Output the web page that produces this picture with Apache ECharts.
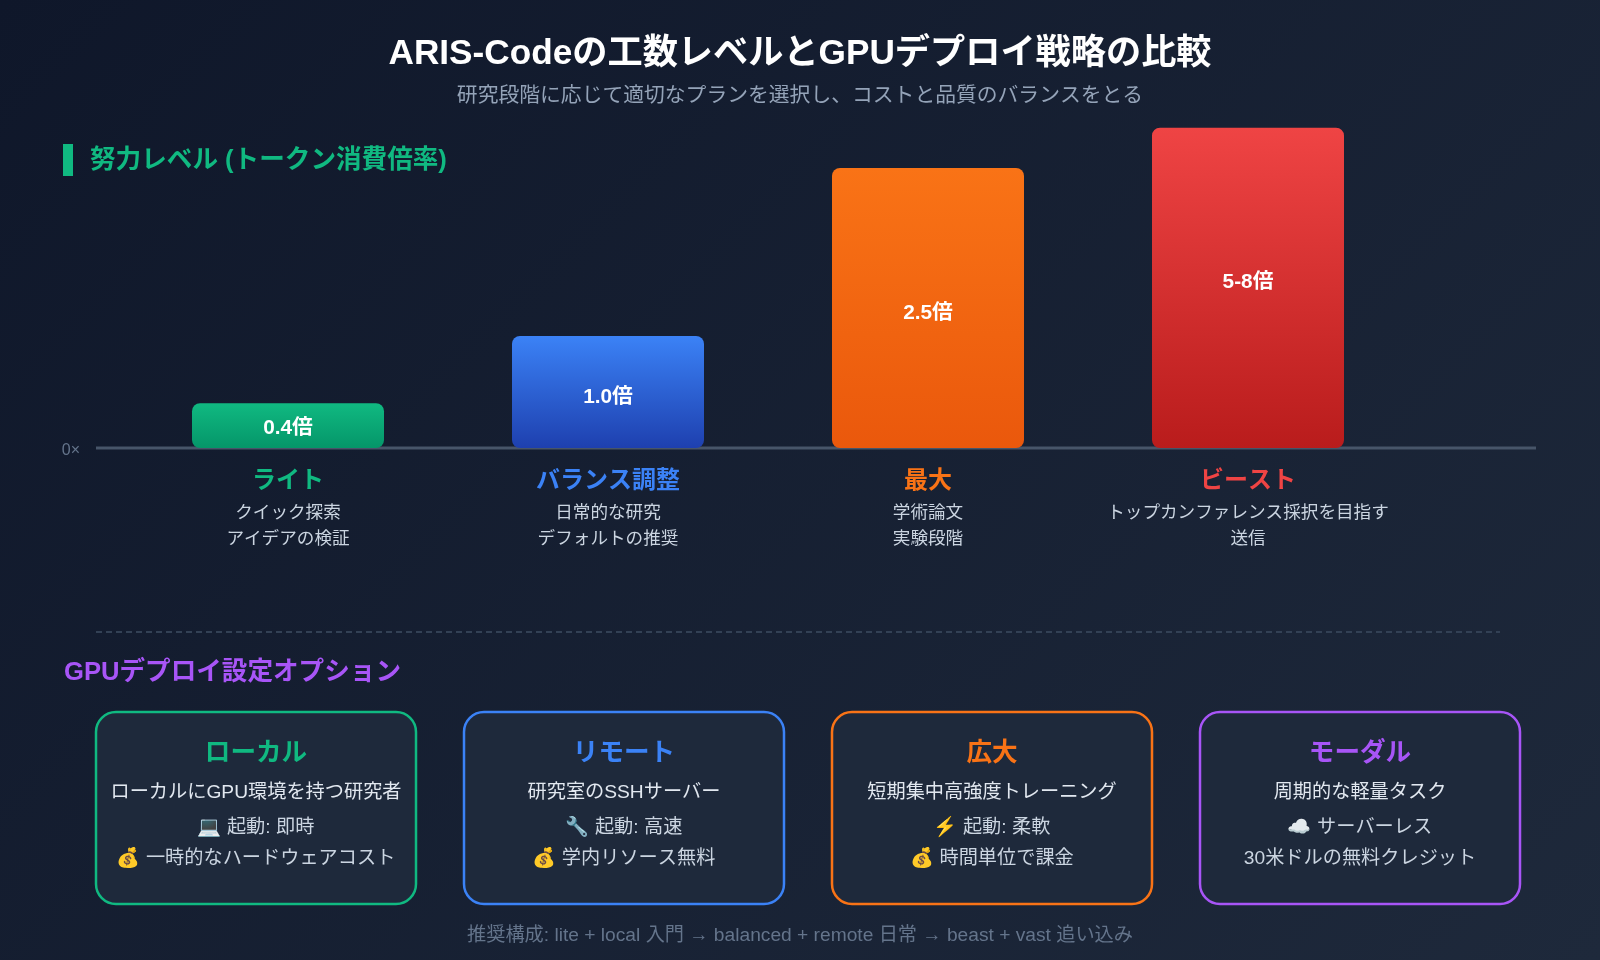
<!DOCTYPE html>
<html lang="ja">
<head>
<meta charset="utf-8">
<style>html,body{margin:0;padding:0;background:#0f172a}#c{width:1600px;height:960px}</style>
<script src="https://cdn.jsdelivr.net/npm/echarts@6/dist/echarts.min.js"></script>
</head>
<body>
<div id="c"></div>
<script>
const FONT = '"Liberation Sans","Noto Sans CJK JP","Noto Color Emoji",sans-serif';
const chartTitle = 'ARIS-Codeの工数レベルとGPUデプロイ戦略の比較';
const chartSubtitle = '研究段階に応じて適切なプランを選択し、コストと品質のバランスをとる';
const effortHeading = '努力レベル (トークン消費倍率)';
const deployHeading = 'GPUデプロイ設定オプション';
const footerNote = '推奨構成: lite + local 入門 → balanced + remote 日常 → beast + vast 追い込み';

const categories = ['ライト', 'バランス調整', '最大', 'ビースト'];
// The last bar is labelled 5-8倍 but is drawn capped on the picture's scale, about 2.86.
const barValues = [0.4, 1.0, 2.5, 2.86];
const barLabels = ['0.4倍', '1.0倍', '2.5倍', '5-8倍'];
const descLine1 = ['クイック探索', '日常的な研究', '学術論文', 'トップカンファレンス採択を目指す'];
const descLine2 = ['アイデアの検証', 'デフォルトの推奨', '実験段階', '送信'];
const barTop = ['#10b981', '#3b82f6', '#f97316', '#ef4444'];
const barBottom = ['#059669', '#1e40af', '#ea580c', '#b91c1c'];
const labelOffset = [3, 5, 5, -6];

const cardTitles = ['ローカル', 'リモート', '広大', 'モーダル'];
const cardLine1 = ['ローカルにGPU環境を持つ研究者', '研究室のSSHサーバー', '短期集中高強度トレーニング', '周期的な軽量タスク'];
const cardLine2 = ['💻 起動: 即時', '🔧 起動: 高速', '⚡ 起動: 柔軟', '☁️ サーバーレス'];
const cardLine3 = ['💰 一時的なハードウェアコスト', '💰 学内リソース無料', '💰 時間単位で課金', '30米ドルの無料クレジット'];
const cardColors = ['#10b981', '#3b82f6', '#f97316', '#a855f7'];
const cardLeft = [96, 464, 832, 1200];

const richStyles = {d: {fontSize: 17.6, color: '#cbd5e1', lineHeight: 26, fontFamily: FONT}};
categories.forEach((c, i) => {
  richStyles['t' + i] = {fontSize: 24, fontWeight: 'bold', color: barTop[i], lineHeight: 36, fontFamily: FONT, padding: [0, 0, 2, 0]};
});

function txt(text, x, y, size, fill, weight, align) {
  return {type: 'text', silent: true, style: {
    text, x, y, fill, align: align || 'center', verticalAlign: 'middle',
    font: (weight ? weight + ' ' : '') + size + 'px ' + FONT
  }};
}

const graphics = [
  {type: 'line', silent: true, shape: {x1: 96, y1: 448, x2: 1536, y2: 448}, style: {stroke: '#475569', lineWidth: 3}},
  {type: 'rect', silent: true, shape: {x: 63, y: 144, width: 10, height: 32}, style: {fill: '#10b981'}},
  {type: 'line', silent: true, shape: {x1: 96, y1: 632, x2: 1500, y2: 632}, style: {stroke: '#334155', lineWidth: 2, lineDash: [6, 4]}},
  txt(chartTitle, 800, 54, 35.2, '#ffffff', 'bold'),
  txt(chartSubtitle, 800, 96, 20.8, '#94a3b8'),
  txt(effortHeading, 90, 161, 25.6, '#10b981', 'bold', 'left'),
  txt(deployHeading, 64, 673, 25.6, '#a855f7', 'bold', 'left'),
  txt(footerNote, 800, 936, 19.2, '#64748b')
];
cardTitles.forEach((t, i) => {
  const cx = cardLeft[i] + 160;
  graphics.push(
    {type: 'rect', silent: true, shape: {x: cardLeft[i], y: 712, width: 320, height: 192, r: 20},
     style: {fill: '#1e293b', stroke: cardColors[i], lineWidth: 2.5}},
    txt(t, cx, 754, 25.6, cardColors[i], 'bold'),
    txt(cardLine1[i], cx, 793, 19.2, '#e2e8f0'),
    txt(cardLine2[i], cx, 828, 19.2, '#cbd5e1'),
    txt(cardLine3[i], cx, 859, 19.2, '#cbd5e1')
  );
});

const chart = echarts.init(document.getElementById('c'), null, {renderer: 'canvas'});
chart.setOption({
  animation: false,
  backgroundColor: new echarts.graphic.LinearGradient(0.1, -0.1667, 0.9, 1.1667, [
    {offset: 0, color: '#0f172a'}, {offset: 1, color: '#1e293b'}
  ]),
  grid: {left: 128, width: 1280, top: 112, height: 336, containLabel: false},
  xAxis: {
    type: 'category', data: categories,
    axisLine: {show: false}, axisTick: {show: false},
    axisLabel: {
      margin: 16, interval: 0, hideOverlap: false,
      formatter: (v, i) => `{t${i}|${v}}\n{d|${descLine1[i]}}\n{d|${descLine2[i]}}`,
      rich: richStyles
    }
  },
  yAxis: {
    type: 'value', min: 0, max: 3, interval: 1,
    axisLine: {show: false}, axisTick: {show: false}, splitLine: {show: false},
    axisLabel: {
      margin: 48, formatter: v => v === 0 ? '{z|0×}' : '',
      rich: {z: {color: '#64748b', fontSize: 16, fontFamily: FONT, padding: [6, 0, 0, 0]}}
    }
  },
  series: [{
    type: 'bar', barWidth: 192,
    data: barValues.map((v, i) => ({
      value: v,
      itemStyle: {
        borderRadius: 8,
        color: new echarts.graphic.LinearGradient(0, 0, 0, 1, [
          {offset: 0, color: barTop[i]}, {offset: 1, color: barBottom[i]}
        ])
      },
      label: {
        show: true, position: 'inside', offset: [0, labelOffset[i]],
        formatter: barLabels[i], color: '#ffffff', fontSize: 20.8, fontWeight: 'bold', fontFamily: FONT
      }
    }))
  }],
  graphic: graphics
});
</script>
</body>
</html>
